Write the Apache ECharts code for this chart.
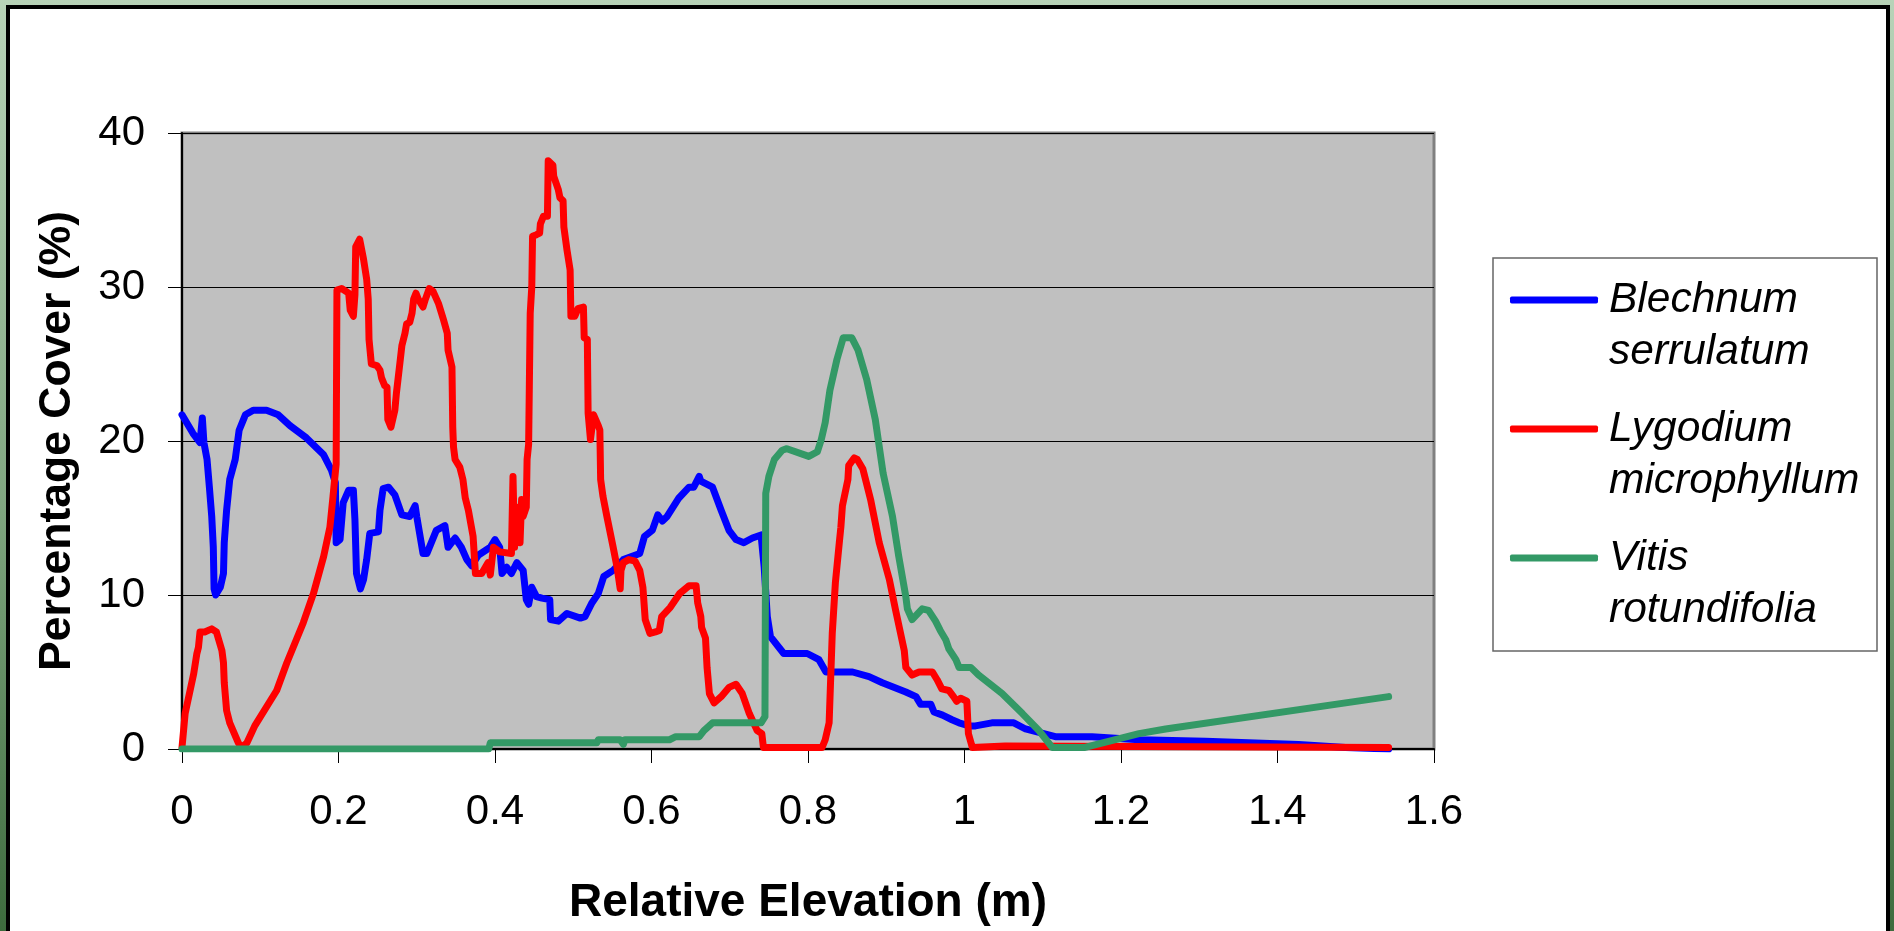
<!DOCTYPE html>
<html>
<head>
<meta charset="utf-8">
<title>Percentage cover vs relative elevation</title>
<script src="https://cdn.jsdelivr.net/npm/echarts@6/dist/echarts.min.js"></script>
<style>
    html, body { margin: 0; padding: 0; }
    body {
        width: 1894px; height: 931px; overflow: hidden;
        background: linear-gradient(to bottom, #b8d3b8 0%, #7fa57f 55%, #3d6b3d 100%);
        position: relative;
    }
    #frame {
        position: absolute; left: 6px; top: 5px; width: 1876px; height: 940px;
        border: 4px solid #000; border-bottom: none; background: #fff;
    }
    #chart { position: absolute; left: 0; top: 0; width: 1894px; height: 931px; }
</style>
</head>
<body>
<div id="frame"></div>
<div id="chart"></div>
<script>
// relative elevation (m) and % cover
var blueX = [0, 0.014, 0.023, 0.026, 0.028, 0.032, 0.035, 0.038, 0.040, 0.041, 0.043, 0.049, 0.053, 0.054, 0.057, 0.061, 0.068, 0.073, 0.081, 0.091,
    0.108, 0.123, 0.138, 0.159, 0.181, 0.191, 0.196, 0.197, 0.202, 0.206, 0.213, 0.219, 0.221, 0.223, 0.228, 0.232, 0.236, 0.240, 0.251, 0.253,
    0.257, 0.264, 0.272, 0.281, 0.291, 0.298, 0.300, 0.308, 0.313, 0.325, 0.336, 0.340, 0.349, 0.357, 0.364, 0.370, 0.379, 0.394, 0.400, 0.406,
    0.409, 0.415, 0.421, 0.428, 0.436, 0.440, 0.443, 0.447, 0.453, 0.460, 0.470, 0.471, 0.481, 0.492, 0.509, 0.515, 0.524, 0.532, 0.539, 0.551,
    0.564, 0.585, 0.591, 0.601, 0.608, 0.614, 0.620, 0.635, 0.648, 0.654, 0.661, 0.663, 0.678, 0.689, 0.699, 0.708, 0.718, 0.729, 0.740, 0.744,
    0.748, 0.752, 0.769, 0.799, 0.814, 0.823, 0.857, 0.878, 0.895, 0.925, 0.938, 0.944, 0.957, 0.961, 0.972, 0.984, 0.993, 1.006, 1.014, 1.035,
    1.063, 1.078, 1.116, 1.163, 1.223, 1.308, 1.427, 1.487, 1.542];
var blueY = [21.7, 20.5, 19.9, 21.5, 19.9, 18.8, 17.0, 15.1, 13.1, 10.4, 10.0, 10.5, 11.4, 13.4, 15.5, 17.5, 18.8, 20.7, 21.7, 22.0,
    22.0, 21.7, 21.0, 20.2, 19.1, 18.1, 17.3, 13.4, 13.6, 16.0, 16.8, 16.8, 14.9, 11.4, 10.4, 11.0, 12.3, 14.0, 14.1, 15.5,
    16.9, 17.0, 16.5, 15.2, 15.1, 15.8, 15.1, 12.7, 12.7, 14.2, 14.5, 13.1, 13.7, 13.1, 12.3, 11.9, 12.6, 13.1, 13.6, 13.1,
    11.4, 11.8, 11.4, 12.1, 11.6, 9.7, 9.4, 10.5, 9.9, 9.8, 9.7, 8.4, 8.3, 8.8, 8.5, 8.6, 9.5, 10.1, 11.2, 11.6,
    12.3, 12.7, 13.8, 14.2, 15.2, 14.8, 15.1, 16.3, 17.0, 17.0, 17.7, 17.4, 17.0, 15.5, 14.2, 13.6, 13.4, 13.7, 13.9, 11.8,
    8.6, 7.3, 6.2, 6.2, 5.8, 5.0, 5.0, 4.7, 4.3, 3.7, 3.4, 2.9, 2.9, 2.4, 2.2, 1.9, 1.7, 1.5, 1.5, 1.7,
    1.7, 1.3, 0.8, 0.8, 0.6, 0.5, 0.3, 0.1, 0];

var redX = [0, 0.004, 0.015, 0.019, 0.021, 0.023, 0.029, 0.038, 0.044, 0.051, 0.053, 0.054, 0.057, 0.061, 0.072, 0.076, 0.083, 0.093, 0.121, 0.134,
    0.155, 0.168, 0.181, 0.189, 0.193, 0.197, 0.198, 0.204, 0.213, 0.215, 0.219, 0.221, 0.222, 0.227, 0.232, 0.236, 0.238, 0.239, 0.242, 0.249,
    0.253, 0.255, 0.259, 0.262, 0.263, 0.267, 0.272, 0.274, 0.279, 0.281, 0.285, 0.287, 0.291, 0.294, 0.296, 0.299, 0.302, 0.308, 0.311, 0.316,
    0.321, 0.328, 0.334, 0.339, 0.340, 0.345, 0.346, 0.347, 0.349, 0.355, 0.359, 0.362, 0.366, 0.372, 0.375, 0.383, 0.391, 0.394, 0.398, 0.406,
    0.421, 0.423, 0.425, 0.428, 0.432, 0.434, 0.436, 0.440, 0.441, 0.443, 0.445, 0.447, 0.448, 0.453, 0.457, 0.458, 0.462, 0.467, 0.468, 0.474,
    0.475, 0.481, 0.483, 0.487, 0.488, 0.492, 0.496, 0.497, 0.502, 0.506, 0.513, 0.514, 0.518, 0.519, 0.522, 0.526, 0.532, 0.534, 0.535, 0.538,
    0.543, 0.551, 0.556, 0.560, 0.561, 0.564, 0.571, 0.579, 0.585, 0.589, 0.592, 0.598, 0.605, 0.610, 0.613, 0.624, 0.636, 0.648, 0.657, 0.659,
    0.663, 0.664, 0.669, 0.671, 0.674, 0.680, 0.689, 0.699, 0.708, 0.716, 0.725, 0.735, 0.741, 0.743, 0.818, 0.822, 0.827, 0.831, 0.835, 0.840,
    0.842, 0.844, 0.851, 0.852, 0.859, 0.863, 0.870, 0.880, 0.891, 0.904, 0.912, 0.923, 0.925, 0.933, 0.942, 0.959, 0.965, 0.971, 0.980, 0.986,
    0.990, 0.995, 1.003, 1.005, 1.010, 1.052, 1.542];
var redY = [0.1, 2.3, 4.9, 6.2, 6.6, 7.6, 7.6, 7.8, 7.6, 6.4, 5.6, 4.3, 2.5, 1.7, 0.4, 0.1, 0.4, 1.5, 3.8, 5.6,
    8.2, 10.1, 12.5, 14.4, 16.4, 18.5, 29.8, 29.9, 29.6, 28.5, 28.1, 29.5, 32.6, 33.1, 31.8, 30.5, 29.2, 26.6, 25.0, 24.9,
    24.6, 24.1, 23.6, 23.5, 21.4, 20.9, 22.0, 23.1, 25.3, 26.2, 27.0, 27.6, 27.7, 28.3, 29.2, 29.6, 29.2, 28.7, 29.2, 29.9,
    29.7, 28.9, 27.9, 27.0, 25.9, 24.8, 20.9, 19.6, 18.8, 18.3, 17.5, 16.3, 15.5, 13.8, 11.4, 11.4, 12.1, 11.3, 13.1, 12.8,
    12.7, 17.7, 13.1, 15.7, 13.4, 16.2, 15.1, 15.7, 18.8, 19.8, 28.3, 30.0, 33.3, 33.4, 33.5, 34.1, 34.6, 34.6, 38.2, 37.9,
    37.2, 36.3, 35.8, 35.6, 33.9, 32.4, 31.1, 28.1, 28.1, 28.6, 28.7, 26.7, 26.6, 21.8, 20.1, 21.7, 21.0, 20.7, 17.5, 16.4,
    15.1, 13.1, 11.8, 10.4, 11.6, 12.1, 12.3, 12.2, 11.6, 10.5, 8.4, 7.5, 7.6, 7.7, 8.6, 9.2, 10.1, 10.6, 10.6, 9.5,
    8.6, 7.9, 7.2, 5.3, 3.6, 3.0, 3.4, 4.0, 4.2, 3.6, 2.3, 1.2, 1.0, 0.1, 0.1, 0.6, 1.7, 7.5, 10.8, 13.4,
    14.4, 15.8, 17.5, 18.4, 18.9, 18.8, 18.2, 16.2, 13.4, 11.0, 9.0, 6.4, 5.3, 4.8, 5.0, 5.0, 4.5, 3.9, 3.8, 3.4,
    3.1, 3.3, 3.1, 1.0, 0.1, 0.2, 0.1];

var greenX = [0, 0.392, 0.394, 0.530, 0.532, 0.560, 0.564, 0.566, 0.623, 0.631, 0.661, 0.667, 0.678, 0.740, 0.745, 0.746, 0.750, 0.757, 0.767, 0.773,
    0.801, 0.812, 0.817, 0.822, 0.828, 0.837, 0.845, 0.856, 0.864, 0.875, 0.886, 0.896, 0.908, 0.916, 0.925, 0.927, 0.933, 0.946, 0.954, 0.963,
    0.969, 0.976, 0.980, 0.989, 0.993, 1.008, 1.018, 1.048, 1.074, 1.095, 1.112, 1.154, 1.223, 1.257, 1.542];
var greenY = [0, 0, 0.4, 0.4, 0.6, 0.6, 0.3, 0.6, 0.6, 0.8, 0.8, 1.2, 1.7, 1.7, 2.1, 16.6, 17.7, 18.8, 19.4, 19.5,
    19.0, 19.3, 20.1, 21.2, 23.3, 25.3, 26.7, 26.7, 25.9, 24.0, 21.4, 17.9, 15.1, 12.5, 9.9, 9.1, 8.4, 9.1, 9.0, 8.3,
    7.7, 7.1, 6.5, 5.8, 5.3, 5.3, 4.8, 3.6, 2.3, 1.2, 0.1, 0.1, 1.0, 1.3, 3.4];

var seriesNames = ['Blechnum serrulatum', 'Lygodium microphyllum', 'Vitis rotundifolia'];
var seriesColors = ['#0000ff', '#ff0000', '#339966'];

var xTicks = { min: 0, max: 1.6, step: 0.2 };
var yTicks = { min: 0, max: 40, step: 10 };

var FONT = '"Liberation Sans", Arial, sans-serif';

function pairs(xs, ys) {
    var out = [];
    for (var i = 0; i < xs.length; i++) {
        out.push([xs[i], ys[i]]);
    }
    return out;
}

var allData = [pairs(blueX, blueY), pairs(redX, redY), pairs(greenX, greenY)];

var chart = echarts.init(document.getElementById('chart'), null, { renderer: 'canvas' });

var legendText = {
    fontFamily: FONT,
    fontStyle: 'italic',
    fontSize: 42.5,
    lineHeight: 52,
    color: '#000',
    padding: [0, 0, 0, 6]
};

var option = {
    animation: false,
    backgroundColor: 'transparent',
    grid: {
        left: 182, top: 133, right: 460, bottom: 182,
        show: true,
        backgroundColor: '#c0c0c0',
        borderColor: '#808080',
        borderWidth: 3
    },
    legend: {
        orient: 'vertical',
        left: 1510,
        top: 222,
        padding: 0,
        itemGap: -27,
        itemWidth: 88,
        itemHeight: 7,
        icon: 'roundRect',
        selectedMode: false,
        // empty first line so the swatch sits beside the first word
        formatter: function(name) {
            var w = name.split(' ');
            return '{t|\u00a0}\n{t|' + w[0] + '}\n{t|' + w[1] + '}';
        },
        textStyle: {
            fontFamily: FONT,
            fontStyle: 'italic',
            fontSize: 42.5,
            lineHeight: 52,
            color: '#000',
            rich: { t: legendText }
        },
        data: seriesNames
    },
    graphic: [{
        // legend border
        type: 'rect',
        shape: { x: 1493, y: 258, width: 384, height: 393 },
        style: { fill: 'none', stroke: '#666', lineWidth: 1.5 },
        z: 10
    }],
    xAxis: {
        type: 'value',
        min: xTicks.min,
        max: xTicks.max,
        interval: xTicks.step,
        name: 'Relative Elevation (m)',
        nameLocation: 'middle',
        nameGap: 131,
        nameTextStyle: { fontFamily: FONT, fontWeight: 'bold', fontSize: 46, color: '#000' },
        axisLine: { show: true, onZero: false, lineStyle: { color: '#000', width: 2 } },
        axisTick: { show: true, inside: false, length: 14, lineStyle: { color: '#000', width: 1 } },
        axisLabel: {
            margin: 42,
            fontFamily: FONT, fontSize: 42, color: '#000',
            formatter: function(v) { return String(Math.round(v * 10) / 10); }
        },
        splitLine: { show: false }
    },
    yAxis: {
        type: 'value',
        min: yTicks.min,
        max: yTicks.max,
        interval: yTicks.step,
        name: 'Percentage Cover (%)',
        nameLocation: 'middle',
        nameGap: 102,
        nameTextStyle: { fontFamily: FONT, fontWeight: 'bold', fontSize: 44.5, color: '#000' },
        axisLine: { show: true, lineStyle: { color: '#000', width: 2 } },
        axisTick: { show: true, inside: false, length: 14, lineStyle: { color: '#000', width: 1 } },
        axisLabel: { margin: 37, fontFamily: FONT, fontSize: 42, color: '#000' },
        splitLine: { show: true, lineStyle: { color: '#000', width: 1 } }
    },
    series: seriesNames.map(function(name, i) {
        return {
            name: name,
            type: 'line',
            data: allData[i],
            symbol: 'none',
            smooth: false,
            itemStyle: { color: seriesColors[i] },
            lineStyle: { color: seriesColors[i], width: 7, cap: 'round', join: 'round' },
            emphasis: { disabled: true }
        };
    })
};

chart.setOption(option);
</script>
</body>
</html>
